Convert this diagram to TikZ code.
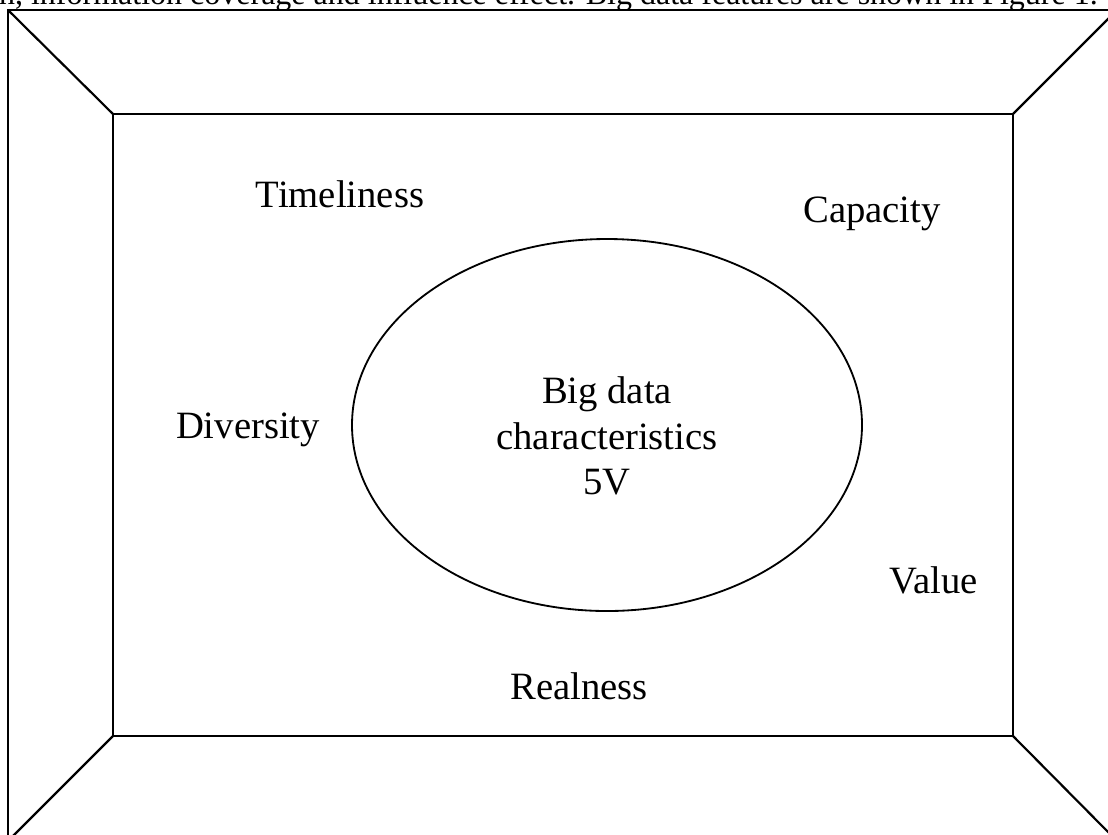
\documentclass[tikz,border=0pt]{standalone}
\usepackage{fontspec}
\setmainfont{Liberation Serif}
\usepackage{tikz}
\usetikzlibrary{shapes.geometric}
\tikzset{lbl/.style={anchor=base,inner sep=0pt,font=\fontsize{11.6}{13.6}\selectfont},
  core/.style={draw,ellipse,line width=.55pt,inner sep=0pt,minimum width=153pt,minimum height=111.6pt}}

\begin{document}
\begin{tikzpicture}[x=.3pt,y=-.3pt,line width=.65pt]
      \useasboundingbox(0,0)rectangle(1108,834);
      \clip(0,0)rectangle(1108,834);
      % frame: outer and inner boxes, corners joined
      \coordinate(o1)at(8,10);\coordinate(o2)at(1117,10);\coordinate(o3)at(1117,841);\coordinate(o4)at(8,841);
      \coordinate(i1)at(113,114);\coordinate(i2)at(1013,114);\coordinate(i3)at(1013,736);\coordinate(i4)at(113,736);
      \draw(o1)--(o2)--(o3)--(o4)--cycle;
      \draw(i1)--(i2)--(i3)--(i4)--cycle;
      \draw(o1)--(i1)(o2)--(i2)(o3)--(i3)(o4)--(i4);
      \node[anchor=base west,inner sep=0pt,font=\fontsize{9.6}{11}\selectfont](cap)at(-2,4){n, information coverage and influence effect. Big data features are shown in Figure 1.};
      % the 5V
      \node[core](bd)at(607,425){};
      \node[lbl,anchor=center,align=center](bdtext)at(607,436){Big data\\characteristics\\5V};
      \node[lbl](time)at(340,207){Timeliness};
      \node[lbl](capa)at(872,222){Capacity};
      \node[lbl](div)at(248,438){Diversity};
      \node[lbl](val)at(934,593){Value};
      \node[lbl](real)at(579,699){Realness};
    \end{tikzpicture}
\end{document}
